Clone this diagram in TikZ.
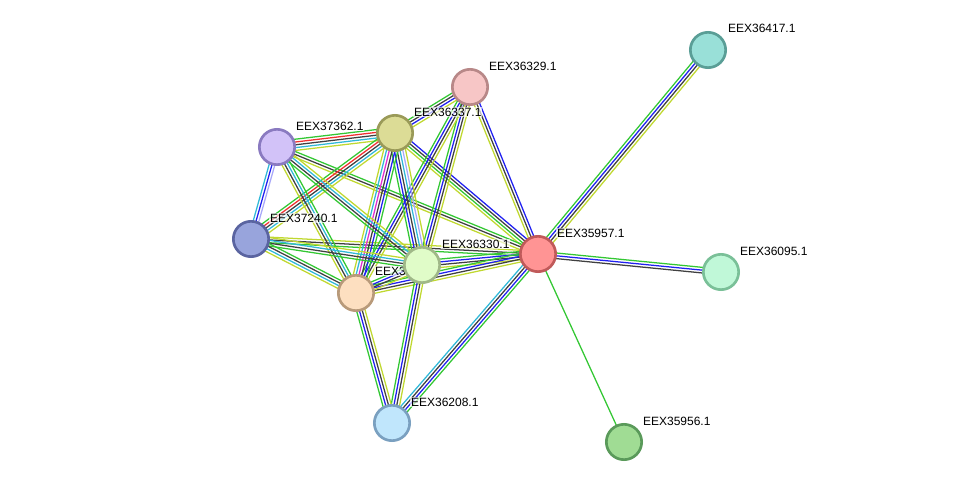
\documentclass[tikz,border=0pt]{standalone}
\usepackage{fontspec}
\setmainfont{Liberation Sans}
\usetikzlibrary{calc}
\definecolor{sgr}{HTML}{33C733}
\definecolor{sred}{HTML}{F03030}
\definecolor{sblu}{HTML}{2020F0}
\definecolor{sblk}{HTML}{404040}
\definecolor{smag}{HTML}{E030D0}
\definecolor{scyn}{HTML}{30B8D8}
\definecolor{syel}{HTML}{C0D830}
\definecolor{slav}{HTML}{A8A8F8}
\definecolor{fA}{HTML}{99E0D8}\definecolor{dA}{HTML}{5A9E96}
\definecolor{fB}{HTML}{F7C6C6}\definecolor{dB}{HTML}{B88888}
\definecolor{fC}{HTML}{DCDC96}\definecolor{dC}{HTML}{9A9A58}
\definecolor{fD}{HTML}{D2C2F8}\definecolor{dD}{HTML}{8A7AC0}
\definecolor{fE}{HTML}{98A4DC}\definecolor{dE}{HTML}{5A64A0}
\definecolor{fF}{HTML}{E0FCC8}\definecolor{dF}{HTML}{A0B888}
\definecolor{fG}{HTML}{FDDFC0}\definecolor{dG}{HTML}{B89A7A}
\definecolor{fH}{HTML}{FF9494}\definecolor{dH}{HTML}{C05A5A}
\definecolor{fI}{HTML}{C0F8D8}\definecolor{dI}{HTML}{7AC098}
\definecolor{fJ}{HTML}{C0E6FC}\definecolor{dJ}{HTML}{7AA0C0}
\definecolor{fK}{HTML}{A0DC94}\definecolor{dK}{HTML}{5A9A5A}
\newcommand\sedge[4]{%
  \foreach \cc [count=\ii] in {#4} {
    \pgfmathsetmacro\off{(\ii-(#3+1)/2)*2.1}
    \draw[color=\cc, line width=0.95pt] ($(#1)!\off pt!90:(#2)$) -- ($(#2)!\off pt!-90:(#1)$);
  }%
}
\tikzset{
  pnode/.style={circle, line width=2pt, minimum size=26.5pt, inner sep=0pt},
  lbl/.style={anchor=west, font=\fontsize{9}{10}\selectfont, inner sep=0.6pt, fill=white, fill opacity=0.65, text opacity=1}
}
\begin{document}
\begin{tikzpicture}[x=0.75pt, y=-0.75pt]
\useasboundingbox (0,0) rectangle (976,488);
\coordinate (A) at (708,50);
\coordinate (B) at (470,87);
\coordinate (C) at (395,133);
\coordinate (D) at (277,147);
\coordinate (E) at (251,239);
\coordinate (F) at (422,265);
\coordinate (G) at (356,293);
\coordinate (H) at (538,254);
\coordinate (I) at (721,272);
\coordinate (J) at (392,423);
\coordinate (K) at (624,442);
% edges
\sedge{H}{K}{1}{sgr}
\sedge{H}{A}{4}{syel,sblk,sblu,sgr}
\sedge{H}{I}{3}{sblk,sblu,sgr}
\sedge{J}{H}{4}{sgr,sblu,sblk,scyn}
\sedge{H}{B}{3}{sblu,sblk,syel}
\sedge{C}{H}{4}{syel,sgr,sblk,sblu}
\sedge{D}{H}{3}{syel,sblk,sgr}
\sedge{E}{H}{3}{sgr,sblk,syel}
\sedge{F}{H}{4}{syel,sblk,sblu,sgr}
\sedge{G}{H}{4}{syel,sblk,sblu,sgr}
\sedge{C}{B}{4}{syel,sblu,sblk,sgr}
\sedge{F}{B}{4}{syel,sblk,sblu,sgr}
\sedge{G}{B}{4}{syel,sblk,sblu,sgr}
\sedge{D}{C}{5}{syel,scyn,sblk,sred,sgr}
\sedge{E}{C}{5}{syel,scyn,sblk,sred,sgr}
\sedge{C}{F}{6}{sgr,sblu,sblk,scyn,slav,syel}
\sedge{C}{G}{6}{syel,scyn,smag,sblk,sblu,sgr}
\sedge{E}{D}{3}{slav,sblu,scyn}
\sedge{D}{F}{4}{sgr,sblk,scyn,syel}
\sedge{D}{G}{4}{syel,sblk,scyn,sgr}
\sedge{E}{F}{4}{sgr,sblk,scyn,syel}
\sedge{E}{G}{4}{syel,scyn,sblk,sgr}
\sedge{G}{F}{4}{syel,sblk,sblu,sgr}
\sedge{F}{J}{4}{sgr,sblu,sblk,syel}
\sedge{G}{J}{4}{sgr,sblu,sblk,syel}
% labels
\node[lbl] (lA) at (727,28) {EEX36417.1};
\node[lbl] (lB) at (488,66) {EEX36329.1};
\node[lbl] (lC) at (413,112) {EEX36337.1};
\node[lbl] (lD) at (295,126) {EEX37362.1};
\node[lbl] (lE) at (269,218) {EEX37240.1};
\node[lbl] (lG) at (374,271) {EEX3};
\node[lbl] (lF) at (441,244) {EEX36330.1};
\node[lbl] (lH) at (556,233) {EEX35957.1};
\node[lbl] (lI) at (739,251) {EEX36095.1};
\node[lbl] (lJ) at (410,402) {EEX36208.1};
\node[lbl] (lK) at (642,421) {EEX35956.1};
% nodes
\node[pnode, fill=fA, draw=dA] (nA) at (A) {};
\node[pnode, fill=fB, draw=dB] (nB) at (B) {};
\node[pnode, fill=fC, draw=dC] (nC) at (C) {};
\node[pnode, fill=fD, draw=dD] (nD) at (D) {};
\node[pnode, fill=fE, draw=dE] (nE) at (E) {};
\node[pnode, fill=fG, draw=dG] (nG) at (G) {};
\node[pnode, fill=fF, draw=dF] (nF) at (F) {};
\node[pnode, fill=fH, draw=dH] (nH) at (H) {};
\node[pnode, fill=fI, draw=dI] (nI) at (I) {};
\node[pnode, fill=fJ, draw=dJ] (nJ) at (J) {};
\node[pnode, fill=fK, draw=dK] (nK) at (K) {};
\end{tikzpicture}
\end{document}
